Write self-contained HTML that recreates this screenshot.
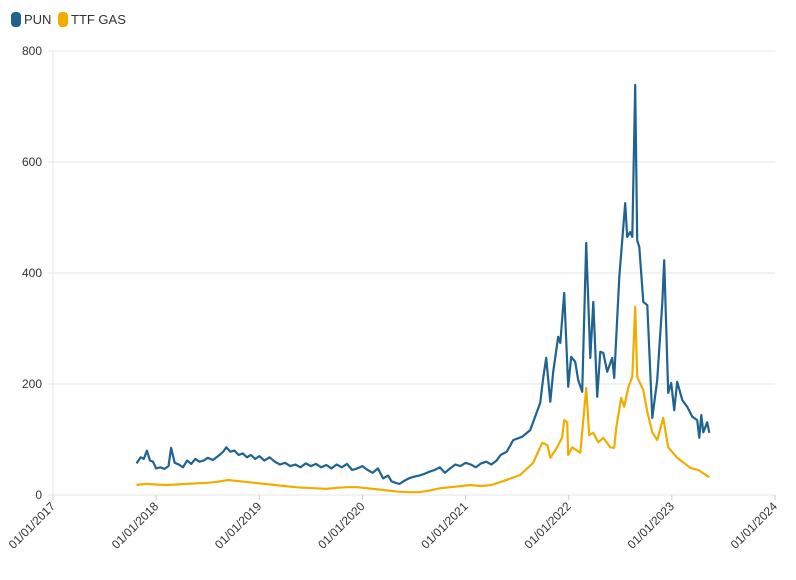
<!DOCTYPE html>
<html><head><meta charset="utf-8"><style>
body{margin:0;background:#fff;font-family:"Liberation Sans",sans-serif;}
svg text{font-family:"Liberation Sans",sans-serif;font-size:12px;fill:#333;}
</style></head><body>
<svg id="c" width="796" height="575">
<g>
<rect x="11" y="12" width="10" height="15" rx="4" fill="#1f6391"/>
<text x="24" y="24" style="font-size:13px">PUN</text>
<rect x="58" y="12" width="10" height="15" rx="4" fill="#f0ad00"/>
<text x="71" y="24" style="font-size:13px">TTF GAS</text>
</g>
<g id="grid"></g><g id="axes"></g><g id="series"></g>
</svg>
<script>
const yTicks=[0,200,400,600,800];
const xTickYears=[2017,2018,2019,2020,2021,2022,2023,2024];
const xTickLabels=["01/01/2017","01/01/2018","01/01/2019","01/01/2020","01/01/2021","01/01/2022","01/01/2023","01/01/2024"];
const punYears=[2017.81,2017.85,2017.88,2017.91,2017.94,2017.97,2018.0,2018.04,2018.08,2018.12,2018.145,2018.18,2018.22,2018.26,2018.3,2018.34,2018.38,2018.42,2018.46,2018.5,2018.55,2018.6,2018.65,2018.68,2018.72,2018.76,2018.8,2018.84,2018.88,2018.92,2018.96,2019.0,2019.05,2019.1,2019.15,2019.2,2019.25,2019.3,2019.35,2019.4,2019.45,2019.5,2019.55,2019.6,2019.65,2019.7,2019.75,2019.8,2019.85,2019.9,2019.95,2020.0,2020.05,2020.1,2020.15,2020.2,2020.25,2020.28,2020.32,2020.36,2020.4,2020.45,2020.5,2020.55,2020.6,2020.65,2020.7,2020.75,2020.8,2020.85,2020.9,2020.95,2021.0,2021.05,2021.1,2021.15,2021.2,2021.25,2021.3,2021.34,2021.4,2021.462,2021.55,2021.627,2021.724,2021.753,2021.782,2021.821,2021.85,2021.898,2021.918,2021.956,2021.995,2022.024,2022.063,2022.092,2022.131,2022.17,2022.209,2022.238,2022.276,2022.306,2022.335,2022.373,2022.422,2022.441,2022.49,2022.548,2022.567,2022.596,2022.616,2022.645,2022.664,2022.684,2022.723,2022.762,2022.81,2022.858,2022.907,2022.926,2022.965,2022.994,2023.023,2023.052,2023.101,2023.149,2023.198,2023.246,2023.266,2023.285,2023.305,2023.343,2023.363];
const punValues=[57,68,65,80,62,60,48,50,47,52,85,58,55,50,62,56,65,60,62,67,63,70,78,86,78,80,72,75,68,72,65,70,62,68,60,55,58,52,55,50,57,52,56,50,54,48,55,50,56,45,48,52,45,40,48,30,35,25,22,20,25,30,33,35,38,42,45,50,40,48,55,52,58,55,50,57,60,55,62,72,78,99,105,117,166,211,247,168,222,285,274,364,195,249,240,207,186,454,247,348,177,258,256,222,247,211,393,526,465,474,465,739,459,447,348,342,139,207,346,423,184,202,153,204,171,159,141,135,103,144,113,131,112];
const gasYears=[2017.81,2017.9,2018.0,2018.1,2018.2,2018.3,2018.4,2018.5,2018.6,2018.7,2018.75,2018.85,2018.95,2019.05,2019.15,2019.25,2019.35,2019.45,2019.55,2019.65,2019.75,2019.85,2019.95,2020.05,2020.15,2020.25,2020.35,2020.45,2020.55,2020.65,2020.75,2020.85,2020.95,2021.05,2021.15,2021.25,2021.3,2021.336,2021.53,2021.656,2021.743,2021.792,2021.821,2021.888,2021.937,2021.956,2021.985,2021.995,2022.034,2022.112,2022.17,2022.199,2022.238,2022.286,2022.335,2022.403,2022.441,2022.461,2022.509,2022.538,2022.577,2022.616,2022.645,2022.664,2022.723,2022.762,2022.81,2022.858,2022.916,2022.965,2023.052,2023.178,2023.256,2023.363];
const gasValues=[18,20,19,18,19,20,21,22,24,27,26,24,22,20,18,16,14,13,12,11,13,14,14,12,10,8,6,5,5,8,12,14,16,18,16,18,21,23,36,58,94,90,67,86,104,135,131,72,86,76,193,108,112,95,103,86,85,122,175,159,193,213,339,213,189,150,113,99,139,86,67,49,45,32];
const X0=53,X1=775,Y0=495,Y1=51;
const xs=y=>X0+(y-2017)/7*(X1-X0);
const ys=v=>Y0-v/800*(Y0-Y1);
const NS="http://www.w3.org/2000/svg";
function mk(t,a,p){const e=document.createElementNS(NS,t);for(const k in a)e.setAttribute(k,a[k]);p.appendChild(e);return e;}
const grid=document.getElementById('grid'),axes=document.getElementById('axes'),ser=document.getElementById('series');
yTicks.forEach(v=>{
 const l=mk('line',{x1:X0-5,x2:X1,y1:ys(v),y2:ys(v),stroke:'#e6e6e6','stroke-width':1},grid);
 
 
 const t=mk('text',{x:42,y:ys(v)+4,'text-anchor':'end'},axes);t.textContent=v;
 
 
});
const ax=mk('line',{x1:X0,x2:X0,y1:Y1,y2:Y0,stroke:'#e6e6e6'},axes);


xTickYears.forEach((yr,i)=>{
 const x=xs(yr);
 const tk=mk('line',{x1:x,x2:x,y1:Y0,y2:Y0+5,stroke:'#ccc'},axes);
 
 
 const t=mk('text',{x:x+3,y:Y0+12,'text-anchor':'end',transform:`rotate(-45 ${x+3} ${Y0+12})`},axes);
 t.textContent=xTickLabels[i];
 
 
});
function line(yrs,vals,col,name){
 const d=yrs.map((y,i)=>(i?'L':'M')+xs(y).toFixed(1)+','+ys(vals[i]).toFixed(1)).join('');
 const p=mk('path',{d:d,fill:'none',stroke:col,'stroke-width':2.2,'stroke-linejoin':'round'},ser);
 
 
}
line(gasYears,gasValues,'#f0ad00','ttf-gas-line');
line(punYears,punValues,'#1f6391','pun-line');
</script>
</body></html>
